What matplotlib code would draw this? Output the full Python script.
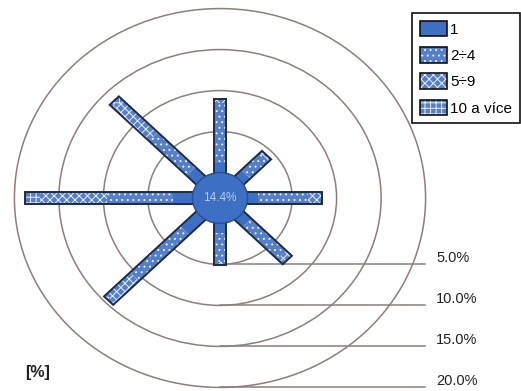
import numpy as np
import matplotlib
matplotlib.use("Agg")
import matplotlib.pyplot as plt
from matplotlib.patches import Polygon, Circle, Patch
from matplotlib.legend_handler import HandlerTuple

plt.rcParams['font.family'] = ['Liberation Sans', 'DejaVu Sans']
plt.rcParams['hatch.linewidth'] = 0.7

# ---- data (percent) ----
directions = ['S', 'SV', 'V', 'JV', 'J', 'JZ', 'Z', 'SZ']
angles_deg = [0, 45, 90, 135, 180, 225, 270, 315]
speed_1 = [1.2, 1.0, 1.2, 1.2, 1.2, 2.5, 2.2, 1.5]
speed_2_4 = [7.3, 3.0, 5.6, 5.5, 3.5, 8.0, 7.4, 6.0]
speed_5_9 = [0.5, 0.3, 1.6, 0.9, 0.4, 3.8, 7.5, 5.5]
speed_10 = [0.0, 0.0, 0.0, 0.0, 0.0, 0.3, 1.7, 0.7]
calm = 14.4
class_labels = ['1', '2÷4', '5÷9', '10 a více']
ring_values = [5.0, 10.0, 15.0, 20.0]
ring_labels = ['5.0%', '10.0%', '15.0%', '20.0%']

# ---- layout ----
W, H = 521, 391
cx, cy = 220, 198          # centre in pixels
sx, sy = 8.9, 8.2           # px per percent
R0 = 3.1                    # calm-circle radius (percent units)
half_w = 0.73

fig = plt.figure(figsize=(W / 100, H / 100), dpi=100)
ax = fig.add_axes([0, 0, 1, 1])
ax.set_xlim(-cx / sx, (W - cx) / sx)
ax.set_ylim(-(H - cy) / sy, cy / sy)
ax.set_aspect('auto')
ax.axis('off')

ring_col = '#8c7f78'
for v in ring_values:
    ax.add_patch(Circle((0, 0), R0 + v, fill=False, ec=ring_col, lw=1.1, zorder=1))

# leader lines and labels
x_line_end = (425 - cx) / sx
x_text = (436 - cx) / sx
for v, lab in zip(ring_values, ring_labels):
    y = -(R0 + v)
    ax.plot([0, x_line_end], [y, y], color=ring_col, lw=1.1, zorder=1)
    ax.text(x_text, y + 0.25, lab, fontsize=10.5, color='#222222', ha='left', va='baseline')

solid_blue = '#3d6fc4'
hatch_face = '#5580c8'
edge_dark = '#1f2a44'
styles = [
    dict(fc=solid_blue, hatch=None),
    dict(fc=hatch_face, hatch='...'),
    dict(fc=hatch_face, hatch='xxxx'),
    dict(fc=hatch_face, hatch='+++'),
]


def seg_poly(theta, r1, r2):
    d = np.array([np.sin(theta), np.cos(theta)])
    p = np.array([np.cos(theta), -np.sin(theta)]) * half_w
    return np.array([d * r1 + p, d * r2 + p, d * r2 - p, d * r1 - p])


series = [speed_1, speed_2_4, speed_5_9, speed_10]
for i, ang in enumerate(angles_deg):
    th = np.deg2rad(ang)
    r = R0
    for k, s in enumerate(series):
        val = s[i]
        if val <= 0:
            continue
        r1 = 0.0 if k == 0 else r
        r2 = r + val
        st = styles[k]
        ax.add_patch(Polygon(seg_poly(th, r1, r2), closed=True, fc=st['fc'],
                             ec='#e8eefc' if st['hatch'] else st['fc'],
                             hatch=st['hatch'], lw=0, zorder=3))
        r = r2
    ax.add_patch(Polygon(seg_poly(th, 0, r), closed=True, fill=False,
                         ec=edge_dark, lw=1.4, zorder=4))

ax.add_patch(Circle((0, 0), R0, fc=solid_blue, ec='#2b4f90', lw=1.0, zorder=5))
ax.text(0, 0, f'{calm}%', ha='center', va='center', fontsize=8.5, color='#b8cdf0', zorder=6)

ax.text((25 - cx) / sx, -(373 - cy) / sy, '[%]', fontsize=11.5, fontweight='bold',
        color='#222222', ha='left', va='center')

# legend
handles = []
for st in styles:
    fill = Patch(fc=st['fc'], ec='#e8eefc' if st['hatch'] else st['fc'], hatch=st['hatch'], lw=0)
    outline = Patch(fill=False, ec='#111111', lw=1.2)
    handles.append((fill, outline))
leg = ax.legend(handles, class_labels, handler_map={tuple: HandlerTuple(ndivide=1, pad=0)},
                loc='upper right', bbox_to_anchor=(520 / W, 1 - 13 / H),
                bbox_transform=fig.transFigure, fontsize=11, handlelength=1.75,
                handleheight=1.2, handletextpad=0.25, labelspacing=0.68,
                borderpad=0.5, borderaxespad=0, fancybox=False, framealpha=1)
leg.get_frame().set_edgecolor('#111111')
leg.get_frame().set_linewidth(1.2)

fig.savefig('out.png', dpi=100)
